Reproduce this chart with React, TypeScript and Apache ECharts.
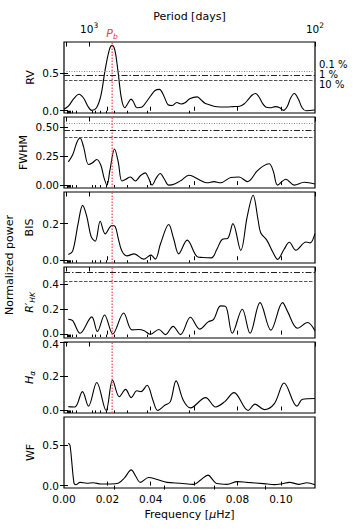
import React, { useEffect, useRef } from 'react';
import * as echarts from 'echarts';

// ---------- data ----------
const FREQ_MAX = 0.11574; // 1/(100 d) in µHz
const PB_FREQ = 0.0222;
const DAY_TO_UHZ = 11.574; // f[µHz] = 11.574 / P[days]

const freqTickValues = [0.02, 0.04, 0.06, 0.08, 0.1];
const freqLabelValues = [0, 0.02, 0.04, 0.06, 0.08, 0.1];
const periodMajor = [10000, 1000, 100];
const periodMinor = [9000, 8000, 7000, 6000, 5000, 4000, 3000, 2000, 900, 800, 700, 600, 500, 400, 300, 200];
const periodLabelValues = [1000, 100];
const periodLabelTexts = ['{b|10}{s|3}', '{b|10}{s|2}'];
const wfTopPeriods = [500, 250, 500 / 3, 125];

const rvData = [[0.0, 0.02], [0.002, 0.06], [0.0045, 0.16], [0.0069, 0.22], [0.009, 0.17], [0.011, 0.06], [0.0128, 0.005], [0.015, 0.04], [0.017, 0.2], [0.019, 0.55], [0.021, 0.82], [0.0222, 0.87], [0.0235, 0.8], [0.025, 0.5], [0.0265, 0.16], [0.028, 0.04], [0.0295, 0.1], [0.0309, 0.155], [0.032, 0.12], [0.0336, 0.04], [0.036, 0.05], [0.038, 0.12], [0.04, 0.2], [0.042, 0.27], [0.044, 0.285], [0.046, 0.2], [0.048, 0.08], [0.05, 0.07], [0.052, 0.11], [0.054, 0.09], [0.056, 0.11], [0.058, 0.16], [0.0614, 0.185], [0.063, 0.15], [0.065, 0.1], [0.067, 0.08], [0.069, 0.06], [0.072, 0.05], [0.075, 0.05], [0.078, 0.055], [0.081, 0.06], [0.083, 0.09], [0.085, 0.15], [0.0868, 0.21], [0.0884, 0.23], [0.09, 0.18], [0.0915, 0.1], [0.093, 0.05], [0.095, 0.04], [0.0975, 0.055], [0.0995, 0.04], [0.1012, 0.005], [0.103, 0.06], [0.1045, 0.17], [0.1062, 0.23], [0.108, 0.16], [0.1098, 0.04], [0.1116, 0.0], [0.1157, 0.01]];
const fwhmData = [[0.002, 0.2], [0.004, 0.26], [0.006, 0.37], [0.0074, 0.405], [0.009, 0.33], [0.0113, 0.177], [0.013, 0.19], [0.0151, 0.22], [0.017, 0.17], [0.0185, 0.06], [0.0198, 0.0], [0.0212, 0.13], [0.0233, 0.31], [0.025, 0.2], [0.0267, 0.035], [0.0285, 0.05], [0.0306, 0.07], [0.0329, 0.035], [0.0352, 0.08], [0.0375, 0.105], [0.039, 0.06], [0.0406, 0.0], [0.0425, 0.06], [0.0444, 0.1], [0.0463, 0.05], [0.0483, 0.0], [0.051, 0.01], [0.054, 0.04], [0.0576, 0.085], [0.06, 0.07], [0.063, 0.04], [0.066, 0.02], [0.0691, 0.03], [0.0722, 0.02], [0.0769, 0.065], [0.0807, 0.07], [0.0846, 0.03], [0.089, 0.12], [0.092, 0.165], [0.0946, 0.183], [0.0965, 0.12], [0.0985, 0.0], [0.1023, 0.05], [0.1062, 0.0], [0.1108, 0.025], [0.1157, 0.01]];
const bisData = [[0.002, 0.031], [0.004, 0.05], [0.0065, 0.2], [0.0086, 0.3], [0.0105, 0.24], [0.0125, 0.13], [0.0144, 0.104], [0.0167, 0.213], [0.019, 0.144], [0.0221, 0.19], [0.0236, 0.185], [0.025, 0.12], [0.0267, 0.05], [0.029, 0.024], [0.0324, 0.035], [0.0367, 0.006], [0.0401, 0.028], [0.0421, 0.006], [0.0445, 0.09], [0.0483, 0.195], [0.0505, 0.12], [0.0529, 0.035], [0.0568, 0.11], [0.0614, 0.02], [0.064, 0.015], [0.068, 0.013], [0.0705, 0.06], [0.073, 0.115], [0.0755, 0.12], [0.0779, 0.2], [0.0815, 0.054], [0.0845, 0.24], [0.0872, 0.355], [0.0895, 0.22], [0.0907, 0.15], [0.0935, 0.11], [0.0965, 0.04], [0.0985, 0.005], [0.1015, 0.06], [0.1039, 0.098], [0.1069, 0.055], [0.1116, 0.1], [0.1135, 0.095], [0.1157, 0.145]];
const rhkData = [[0.002, 0.12], [0.004, 0.11], [0.0074, 0.01], [0.0128, 0.14], [0.0154, 0.025], [0.0187, 0.155], [0.0225, 0.005], [0.0275, 0.17], [0.0313, 0.037], [0.0345, 0.04], [0.037, 0.03], [0.0398, 0.002], [0.0437, 0.04], [0.0468, 0.0], [0.0503, 0.065], [0.0537, 0.0], [0.0583, 0.137], [0.0626, 0.043], [0.0665, 0.1], [0.069, 0.12], [0.0722, 0.226], [0.0745, 0.222], [0.0776, 0.01], [0.0822, 0.2], [0.0858, 0.01], [0.0904, 0.252], [0.0954, 0.035], [0.1008, 0.252], [0.103, 0.185], [0.1077, 0.05], [0.1123, 0.095], [0.1157, 0.03]];
const haData = [[0.002, 0.022], [0.005, 0.02], [0.0085, 0.11], [0.0113, 0.025], [0.0151, 0.163], [0.0194, 0.0], [0.0224, 0.178], [0.0255, 0.08], [0.0284, 0.123], [0.031, 0.075], [0.0336, 0.115], [0.0355, 0.11], [0.0383, 0.147], [0.041, 0.06], [0.0432, 0.0], [0.0465, 0.03], [0.049, 0.05], [0.0517, 0.173], [0.055, 0.06], [0.0583, 0.015], [0.0653, 0.075], [0.0699, 0.02], [0.074, 0.05], [0.0784, 0.104], [0.0849, 0.0], [0.0881, 0.037], [0.0923, 0.005], [0.097, 0.04], [0.1015, 0.16], [0.1074, 0.025], [0.11, 0.065], [0.1157, 0.07]];
const wfData = [[0.002, 0.53], [0.0028, 0.5], [0.0046, 0.03], [0.0055, 0.01], [0.0074, 0.04], [0.0105, 0.03], [0.0135, 0.035], [0.017, 0.02], [0.0215, 0.02], [0.025, 0.03], [0.028, 0.1], [0.031, 0.196], [0.033, 0.12], [0.0352, 0.04], [0.039, 0.1], [0.043, 0.075], [0.0475, 0.04], [0.0535, 0.03], [0.0598, 0.015], [0.063, 0.07], [0.0664, 0.13], [0.069, 0.06], [0.0705, 0.025], [0.0752, 0.015], [0.0799, 0.05], [0.0845, 0.04], [0.092, 0.025], [0.097, 0.012], [0.1, 0.02], [0.104, 0.04], [0.1085, 0.015], [0.112, 0.035], [0.1157, 0.01]];

// FAP levels: 0.1 %, 1 %, 10 %
const rvThresholds = [0.53, 0.468, 0.41];
const fwhmThresholds = [0.527, 0.47, 0.408];
const rhkThresholds = [null, 0.49, 0.424];
const fapLabels = ['0.1 %', '1 %', '10 %'];

const panelData = [rvData, fwhmData, bisData, rhkData, haData, wfData];
const panelThresholds = [rvThresholds, fwhmThresholds, null, rhkThresholds, null, null];
const yMin = [-0.03, -0.025, -0.015, -0.027, -0.015, -0.03];
const yMax = [0.915, 0.585, 0.373, 0.533, 0.4, 0.855];
const yTicks = [[0, 0.5], [0, 0.25, 0.5], [0, 0.2], [0, 0.2, 0.4], [0, 0.2, 0.4], [0, 0.5]];
const yDecimals = [1, 2, 1, 1, 1, 1];
const panelTitles = ['RV', 'FWHM', 'BIS', "{i|R}{n|′}{s|HK}", '{i|H}{s|α}', 'WF'];

// ---------- layout / style ----------
const FONT = 'DejaVu Sans';
const GRID_LEFT = 64;
const GRID_WIDTH = 251;
const GRID_TOP0 = 42;
const GRID_STEP = 75;
const GRID_H = 71;
const titleX = [30, 23, 29, 29, 29, 30];
const thrStyles = [
  { type: [1, 1.5], color: '#888888' },
  { type: [6, 2, 1.5, 2], color: '#222222' },
  { type: [3.5, 1.5], color: '#555555' },
];

function buildOption() {
  const grid: any[] = [];
  const xAxis: any[] = [];
  const yAxis: any[] = [];
  const series: any[] = [];
  const graphic: any[] = [];
  const tickStyle = { color: '#000', width: 1 };

  for (let i = 0; i < 6; i++) {
    const top = GRID_TOP0 + GRID_STEP * i;
    grid.push({ left: GRID_LEFT, width: GRID_WIDTH, top, height: GRID_H, show: true, borderColor: '#000', borderWidth: 1.2, backgroundColor: 'transparent' });
    const isLast = i === 5;
    const baseX = {
      type: 'value', gridIndex: i, min: 0, max: FREQ_MAX, splitLine: { show: false }, axisLine: { show: false },
    };
    const bottomIdx = xAxis.length;
    xAxis.push({
      ...baseX, position: 'bottom',
      axisTick: { show: true, inside: true, length: 4, customValues: freqTickValues, lineStyle: tickStyle },
      axisLabel: isLast ? {
        show: true, customValues: freqLabelValues, margin: 5, fontFamily: FONT, fontSize: 10.5, color: '#000',
        formatter: (v: number) => v.toFixed(2),
      } : { show: false },
    });
    if (!isLast) {
      xAxis.push({
        ...baseX, position: 'top',
        axisTick: { show: true, inside: true, length: 2.5, customValues: periodMinor.map((p) => DAY_TO_UHZ / p), lineStyle: tickStyle },
        axisLabel: { show: false },
      });
      xAxis.push({
        ...baseX, position: 'top',
        axisTick: { show: true, inside: true, length: 4.5, customValues: periodMajor.map((p) => DAY_TO_UHZ / p), lineStyle: tickStyle },
        axisLabel: i === 0 ? {
          show: true, customValues: periodLabelValues.map((p) => DAY_TO_UHZ / p), margin: 5,
          formatter: (v: number) => {
            const k = periodLabelValues.findIndex((p) => Math.abs(DAY_TO_UHZ / p - v) < 1e-6);
            return periodLabelTexts[k >= 0 ? k : 0];
          },
          rich: {
            b: { fontFamily: FONT, fontSize: 10.5, color: '#000' },
            s: { fontFamily: FONT, fontSize: 7.5, color: '#000', padding: [0, 0, 8, 0] },
          },
        } : { show: false },
      });
    } else {
      xAxis.push({
        ...baseX, position: 'top',
        axisTick: { show: true, inside: true, length: 4, customValues: wfTopPeriods.map((p) => DAY_TO_UHZ / p), lineStyle: tickStyle },
        axisLabel: { show: false },
      });
    }
    const leftIdx = yAxis.length;
    const dec = yDecimals[i];
    const lblStyle = { fontFamily: FONT, fontSize: 10.5, color: '#000' };
    yAxis.push({
      type: 'value', gridIndex: i, min: yMin[i], max: yMax[i], position: 'left',
      splitLine: { show: false }, axisLine: { show: false },
      axisTick: { show: true, inside: true, length: 4, customValues: yTicks[i], lineStyle: tickStyle },
      axisLabel: {
        show: true, customValues: yTicks[i], margin: 5, ...lblStyle,
        formatter: (v: number) => {
          const t = v.toFixed(dec);
          // nudge the two touching labels between the R'HK and Hα panels apart a little
          if (i === 3 && v === 0) return '{up|' + t + '}';
          if (i === 4 && v === 0.4) return '{dn|' + t + '}';
          return t;
        },
        rich: {
          up: { ...lblStyle, padding: [0, 0, 3, 0] },
          dn: { ...lblStyle, padding: [4, 0, 0, 0] },
        },
      },
    });
    yAxis.push({
      type: 'value', gridIndex: i, min: yMin[i], max: yMax[i], position: 'right',
      splitLine: { show: false }, axisLine: { show: false },
      axisTick: { show: true, inside: true, length: 4, customValues: yTicks[i], lineStyle: tickStyle },
      axisLabel: { show: false },
    });

    const mlData: any[] = [];
    const thr = panelThresholds[i];
    if (thr) {
      thr.forEach((v, k) => {
        if (v == null) return;
        mlData.push({ yAxis: v, lineStyle: { type: thrStyles[k].type, color: thrStyles[k].color, width: 1 } });
      });
    }
    series.push({
      type: 'line', xAxisIndex: bottomIdx, yAxisIndex: leftIdx, data: panelData[i], showSymbol: false, symbol: 'none',
      smooth: 0.35, lineStyle: { color: '#000', width: 1.1 }, silent: true, clip: true, z: 3,
      markLine: mlData.length ? { silent: true, symbol: ['none', 'none'], label: { show: false }, data: mlData, animation: false } : undefined,
    });
    if (!isLast) {
      series.push({
        type: 'line', xAxisIndex: bottomIdx, yAxisIndex: leftIdx, data: [[PB_FREQ, yMin[i]], [PB_FREQ, yMax[i]]],
        showSymbol: false, symbol: 'none', silent: true, z: 4,
        lineStyle: { type: [1.5, 1.5], color: '#ee4444', width: 1.2 },
      });
    }

    // panel title
    graphic.push({
      type: 'text', x: titleX[i], y: top + GRID_H / 2, rotation: Math.PI / 2,
      style: {
        text: panelTitles[i], align: 'center', verticalAlign: 'middle', fontFamily: FONT, fontSize: 11, fill: '#000',
        rich: {
          i: { fontFamily: FONT, fontSize: 11, fontStyle: 'italic', fill: '#000' },
          n: { fontFamily: FONT, fontSize: 11, fill: '#000' },
          s: { fontFamily: FONT, fontSize: 7.5, fontStyle: 'italic', fill: '#000', padding: [7, 0, 0, 0] },
        },
      },
    });
  }

  // FAP labels
  const fapY = [64.5, 74.5, 84.5];
  fapLabels.forEach((t, k) => {
    graphic.push({ type: 'text', x: 319, y: fapY[k], style: { text: t, align: 'left', verticalAlign: 'middle', fontFamily: FONT, fontSize: 10, fill: '#000' } });
  });
  graphic.push({ type: 'text', x: 189.5, y: 16, style: { text: 'Period [days]', align: 'center', verticalAlign: 'middle', fontFamily: FONT, fontSize: 11, fill: '#000' } });
  graphic.push({
    type: 'text', x: 112, y: 33,
    style: {
      text: '{p|P}{s|b}', align: 'center', verticalAlign: 'middle',
      rich: {
        p: { fontFamily: FONT, fontSize: 11, fontStyle: 'italic', fill: '#e8403c' },
        s: { fontFamily: FONT, fontSize: 7.5, fontStyle: 'italic', fill: '#e8403c', padding: [6, 0, 0, 0] },
      },
    },
  });
  graphic.push({
    type: 'text', x: 9, y: 265, rotation: Math.PI / 2,
    style: { text: 'Normalized power', align: 'center', verticalAlign: 'middle', fontFamily: FONT, fontSize: 11, fill: '#000' },
  });
  graphic.push({
    type: 'text', x: 189.5, y: 514,
    style: {
      text: '{n|Frequency [}{i|μ}{n|Hz]}', align: 'center', verticalAlign: 'middle',
      rich: {
        n: { fontFamily: FONT, fontSize: 11, fill: '#000' },
        i: { fontFamily: FONT, fontSize: 11, fontStyle: 'italic', fill: '#000' },
      },
    },
  });

  return { animation: false, backgroundColor: '#fff', grid, xAxis, yAxis, series, graphic };
}

export default function App() {
  const ref = useRef<HTMLDivElement>(null);
  useEffect(() => {
    if (!ref.current) return;
    const chart = echarts.init(ref.current, null, { renderer: 'svg' });
    chart.setOption(buildOption() as any);
    return () => chart.dispose();
  }, []);
  return <div ref={ref} style={{ position: 'absolute', left: 0, top: 0, width: 354, height: 531 }} />;
}
